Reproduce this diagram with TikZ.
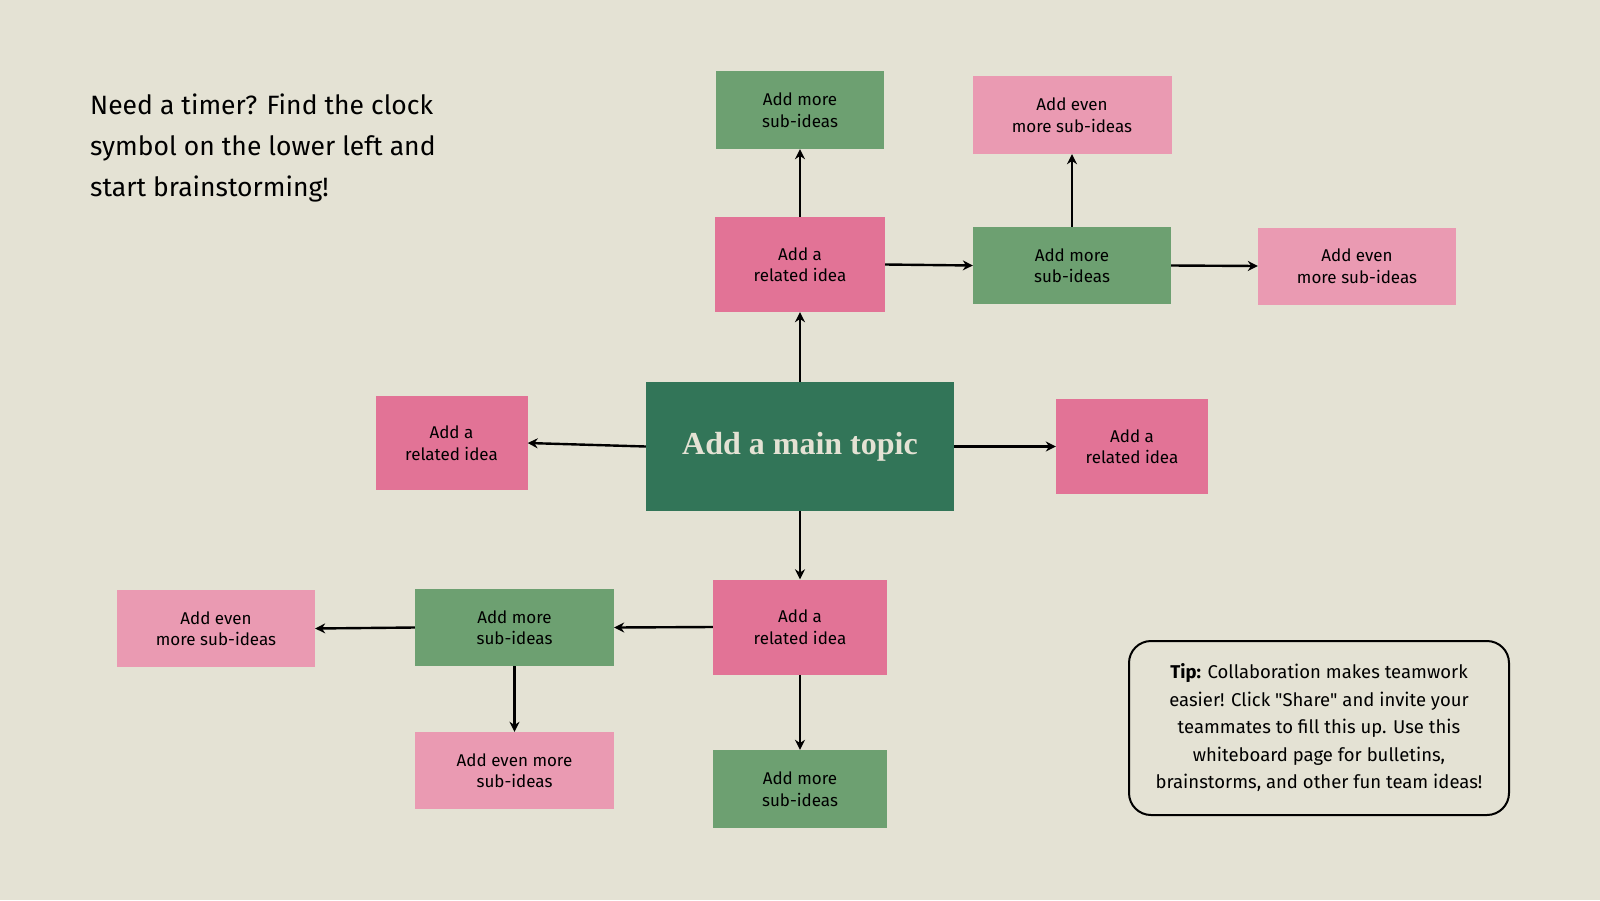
\documentclass[tikz,border=0pt]{standalone}
\usepackage{fontspec}
\setmainfont{Fira Sans}
\newfontfamily\topicfont{Liberation Serif}
\usetikzlibrary{arrows.meta}

\definecolor{paper}{HTML}{E4E2D4}
\definecolor{deepgreen}{HTML}{327558}
\definecolor{leafgreen}{HTML}{6DA071}
\definecolor{rosepink}{HTML}{E27396}
\definecolor{palepink}{HTML}{EA9AB2}

\tikzset{
  card/.style 2 args={minimum width=#1pt, minimum height=#2pt, inner sep=0pt,
    align=center, font=\fontsize{17}{21.5}\selectfont},
  idea/.style 2 args={card={#1}{#2}, fill=rosepink},
  subidea/.style 2 args={card={#1}{#2}, fill=leafgreen},
  evenmore/.style 2 args={card={#1}{#2}, fill=palepink},
  link/.style={->, line width=2.4pt}
}

\begin{document}
\begin{tikzpicture}[x=1pt,y=-1pt,>={Stealth[length=10pt,width=10pt]}]
  \fill[paper] (0,0) rectangle (1600,900);
  \useasboundingbox (0,0) rectangle (1600,900);
  % main topic
  \node[fill=deepgreen, minimum width=308pt, minimum height=129pt, inner sep=0pt,
    text=paper, font=\topicfont\bfseries\fontsize{32}{38}\selectfont] (main) at (800,446.5) {Add a main topic};
  % related ideas
  \node[idea={170}{95}] (up) at (800,264.5) {Add a\\related idea};
  \node[idea={152}{94}] (left) at (451.5,443) {Add a\\related idea};
  \node[idea={152}{95}] (right) at (1132,446.5) {Add a\\related idea};
  \node[idea={174}{95}] (down) at (800,627) {Add a\\related idea};
  % sub-ideas
  \node[subidea={168}{78}] (upsub) at (800,110) {Add more\\sub-ideas};
  \node[subidea={198}{77}] (rsub) at (1072,265.5) {Add more\\sub-ideas};
  \node[subidea={174}{78}] (downsub) at (800,789) {Add more\\sub-ideas};
  \node[subidea={199}{77}] (lsub) at (514.5,627.5) {Add more\\sub-ideas};
  \node[evenmore={199}{78}] (rsubup) at (1072,115) {Add even\\more sub-ideas};
  \node[evenmore={198}{77}] (rsubright) at (1357,266) {Add even\\more sub-ideas};
  \node[evenmore={198}{77}] (lsubleft) at (216,628.5) {Add even\\more sub-ideas};
  \node[evenmore={199}{77}] (lsubdown) at (514.5,770.5) {Add even more\\sub-ideas};
  % connectors
  \draw[link] (main.north) -- (up.south);
  \draw[link] (main.west) -- (left.east);
  \draw[link] (main.east) -- (right.west);
  \draw[link] (main.south) -- (down.north);
  \draw[link] (up.north) -- (upsub.south);
  \draw[link] (up.east) -- (rsub.west);
  \draw[link] (rsub.north) -- (rsubup.south);
  \draw[link] (rsub.east) -- (rsubright.west);
  \draw[link] (down.south) -- (downsub.north);
  \draw[link] (down.west) -- (lsub.east);
  \draw[link] (lsub.west) -- (lsubleft.east);
  \draw[link] (lsub.south) -- (lsubdown.north);
  % notes
  \node[anchor=west, align=left, inner sep=0pt, font=\fontsize{26.5}{41}\selectfont] (timer) at (90,148)
    {Need a timer? Find the clock\\symbol on the lower left and\\start brainstorming!};
  \node[draw, line width=2pt, rounded corners=22pt, minimum width=380pt, minimum height=174pt,
    align=center, font=\fontsize{18.5}{27.5}\selectfont] (tip) at (1319,728)
    {\textbf{Tip:} Collaboration makes teamwork\\easier! Click \textquotedbl Share\textquotedbl{} and invite your\\teammates to fill this up. Use this\\whiteboard page for bulletins,\\brainstorms, and other fun team ideas!};
\end{tikzpicture}
\end{document}
